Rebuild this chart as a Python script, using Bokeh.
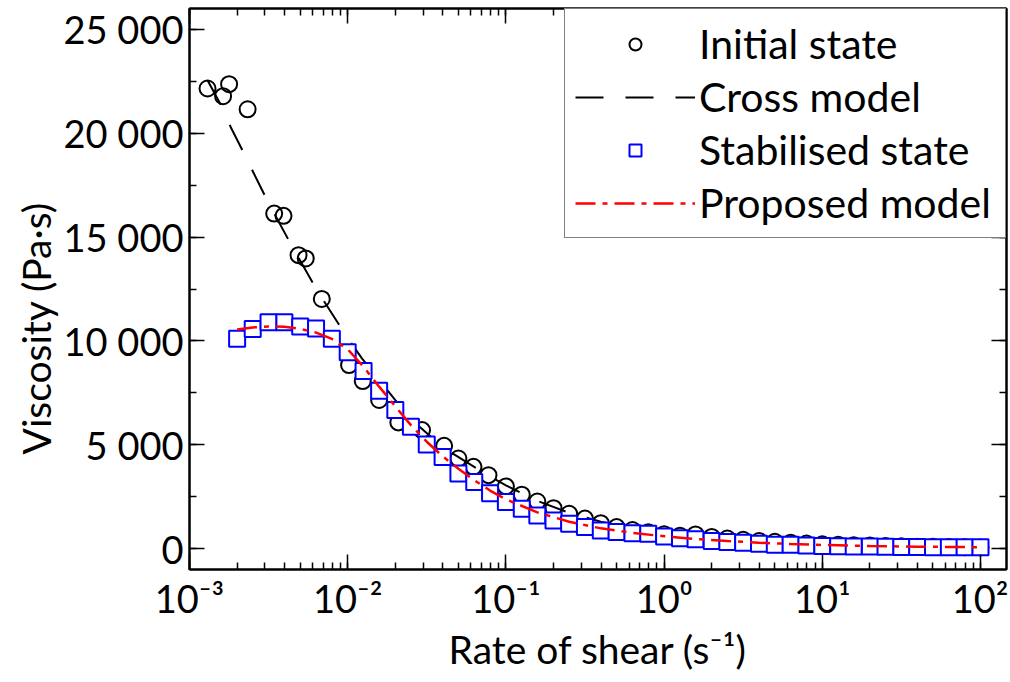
from bokeh.plotting import figure
from bokeh.models import (Range1d, LinearAxis, LogAxis, SingleIntervalTicker, LogTicker,
                          CustomJSTickFormatter, CustomLabelingPolicy, Title)
from bokeh.embed import file_html
from bokeh.resources import INLINE

# ---------------- data ----------------
initial_rate = [0.00130, 0.00163, 0.00178, 0.00233, 0.00343, 0.00393, 0.00489, 0.00543, 0.00686,
                0.0102, 0.01245, 0.0158, 0.0209, 0.0295, 0.0407, 0.0501, 0.0624, 0.0776,
                0.1, 0.126, 0.158, 0.2, 0.251, 0.316, 0.398, 0.501, 0.631, 0.794,
                1.0, 1.26, 1.58, 2.0, 2.51, 3.16, 3.98, 5.01, 6.31, 7.94,
                10, 12.6, 15.8, 20, 25.1, 31.6, 39.8, 50.1, 63.1, 79.4, 100]
initial_visc = [22150, 21780, 22360, 21150, 16130, 16020, 14130, 13970, 12020,
                8840, 8070, 7160, 6080, 5710, 4950, 4340, 3940, 3540,
                3000, 2600, 2270, 1950, 1680, 1450, 1230, 1040, 900, 790,
                700, 630, 690, 570, 490, 430, 370, 330, 290, 250,
                210, 190, 170, 150, 130, 115, 100, 90, 80, 70, 60]

stab_rate = [0.002, 0.00251, 0.00316, 0.00398, 0.00501, 0.00631, 0.00794,
             0.01, 0.0126, 0.0158, 0.02, 0.0251, 0.0316, 0.0398, 0.0501, 0.0631, 0.0794,
             0.1, 0.126, 0.158, 0.2, 0.251, 0.316, 0.398, 0.501, 0.631, 0.794,
             1.0, 1.26, 1.58, 2.0, 2.51, 3.16, 3.98, 5.01, 6.31, 7.94,
             10, 12.6, 15.8, 20, 25.1, 31.6, 39.8, 50.1, 63.1, 79.4, 100]
stab_visc = [10100, 10580, 10900, 10900, 10700, 10600, 10100,
             9450, 8550, 7600, 6680, 5870, 5020, 4420, 3620, 3210, 2670,
             2250, 1920, 1600, 1360, 1200, 1040, 880, 800, 750, 720,
             590, 510, 450, 370, 320, 290, 240, 195, 190, 160,
             130, 125, 110, 110, 95, 80, 80, 75, 75, 70, 65]

cross_rate = [0.0013, 0.00158, 0.00182, 0.00219, 0.00309, 0.00447, 0.00646, 0.01, 0.0123,
              0.0158, 0.02, 0.0263, 0.0347, 0.0447, 0.0661, 0.0851, 0.1, 0.158, 0.251,
              0.398, 0.631, 1.0, 2.0, 3.98, 10, 31.6, 100]
cross_visc = [22550, 21350, 20300, 19090, 16780, 14520, 12390, 10130, 9160,
              8120, 7150, 6100, 5290, 4650, 3840, 3350, 3050, 2300, 1730,
              1300, 980, 750, 520, 370, 240, 140, 80]

prop_rate = [0.002, 0.00251, 0.00316, 0.00398, 0.00501, 0.00631, 0.00794, 0.01, 0.0126,
             0.0158, 0.02, 0.0251, 0.0316, 0.0398, 0.0501, 0.0631, 0.0794, 0.1, 0.158,
             0.251, 0.398, 0.631, 1.0, 1.58, 2.51, 3.98, 6.31, 10, 20, 39.8, 100]
prop_visc = [10550, 10650, 10700, 10680, 10580, 10400, 10100, 9600, 8750,
             7800, 6850, 5950, 5150, 4450, 3850, 3300, 2800, 2380, 1750,
             1300, 980, 760, 600, 470, 370, 290, 230, 180, 130, 100, 70]

x_tick_labels = ["10\u207b\u00b3", "10\u207b\u00b2", "10\u207b\u00b9", "10\u2070", "10\u00b9", "10\u00b2"]
y_ticks = [0, 5000, 10000, 15000, 20000, 25000]
y_tick_labels = ["0", "5 000", "10 000", "15 000", "20 000", "25 000"]

FONT = "Lato"
FS = "38px"

p = figure(width=1008, height=682, x_axis_type="log",
           x_range=Range1d(1e-3, 146), y_range=Range1d(-1000, 26000),
           output_backend="svg", toolbar_location=None,
           min_border_left=189, min_border_right=2, min_border_top=8, min_border_bottom=113,
           background_fill_color="white", border_fill_color="white")
p.grid.visible = False
p.outline_line_color = "black"
p.outline_line_width = 2

# data
p.scatter(initial_rate, initial_visc, marker="circle", size=16, fill_color=None,
          line_color="black", line_width=2, legend_label="Initial state")
p.line(cross_rate, cross_visc, line_color="black", line_width=2, line_dash="28 22",
       legend_label="Cross model")
p.scatter(stab_rate, stab_visc, marker="square", size=16, fill_color="white",
          line_color="#0000ff", line_width=2, legend_label="Stabilised state")
p.line(prop_rate, prop_visc, line_color="#ff0000", line_width=2.5, line_dash="20 7 5 7",
       legend_label="Proposed model")

xfmt = CustomJSTickFormatter(args=dict(labels=x_tick_labels, start=-3),
                             code="const e = Math.round(Math.log10(tick)); return labels[e - start] || '';")

def style_axis(ax, labels=True):
    ax.axis_line_color = "black"
    ax.axis_line_width = 2
    ax.major_tick_line_color = "black"
    ax.minor_tick_line_color = "black"
    ax.major_tick_line_width = 1.5
    ax.minor_tick_line_width = 1.5
    ax.major_tick_in = 15
    ax.major_tick_out = 0
    ax.minor_tick_in = 7
    ax.minor_tick_out = 0
    ax.major_label_text_font = FONT
    ax.major_label_text_color = "black"
    ax.axis_label_text_font = FONT
    ax.axis_label_text_font_size = "39px"
    ax.axis_label_text_font_style = "normal"
    ax.axis_label_text_color = "black"
    if labels:
        ax.major_label_text_font_size = FS
    else:
        ax.major_label_text_font_size = "0px"
        ax.major_label_standoff = 0
        ax.major_label_policy = CustomLabelingPolicy(code="return []")

xax = p.xaxis[0]
xax.ticker = LogTicker(num_minor_ticks=10)
xax.formatter = xfmt
style_axis(xax)
xax.major_label_standoff = 5
xax.axis_label = "Rate of shear (s\u207b\u00b9)"
xax.axis_label_standoff = 2

yax = p.yaxis[0]
yax.ticker = SingleIntervalTicker(interval=5000, num_minor_ticks=2)
yax.major_label_overrides = {t: l for t, l in zip(y_ticks, y_tick_labels)}
style_axis(yax)
yax.major_label_standoff = 6

ytitle = Title(text="Viscosity (Pa\u00b7s)", align="left", offset=115, standoff=4,
               text_font=FONT, text_font_size="39px", text_font_style="normal",
               text_color="black")
p.add_layout(ytitle, "left")

top = LogAxis(ticker=LogTicker(num_minor_ticks=10), formatter=xfmt)
style_axis(top, labels=False)
p.add_layout(top, "above")
right = LinearAxis(ticker=SingleIntervalTicker(interval=5000, num_minor_ticks=2))
style_axis(right, labels=False)
p.add_layout(right, "right")

lg = p.legend[0]
lg.location = "top_right"
lg.margin = 0
lg.padding = 10
lg.spacing = 4
lg.glyph_width = 120
lg.glyph_height = 30
lg.label_standoff = 4
lg.label_width = 296
lg.label_text_font = FONT
lg.label_text_font_size = "41px"
lg.label_text_color = "black"
lg.border_line_color = "black"
lg.border_line_width = 1.5
lg.background_fill_color = "white"
lg.background_fill_alpha = 1

open("out.html", "w").write(file_html(p, INLINE))
